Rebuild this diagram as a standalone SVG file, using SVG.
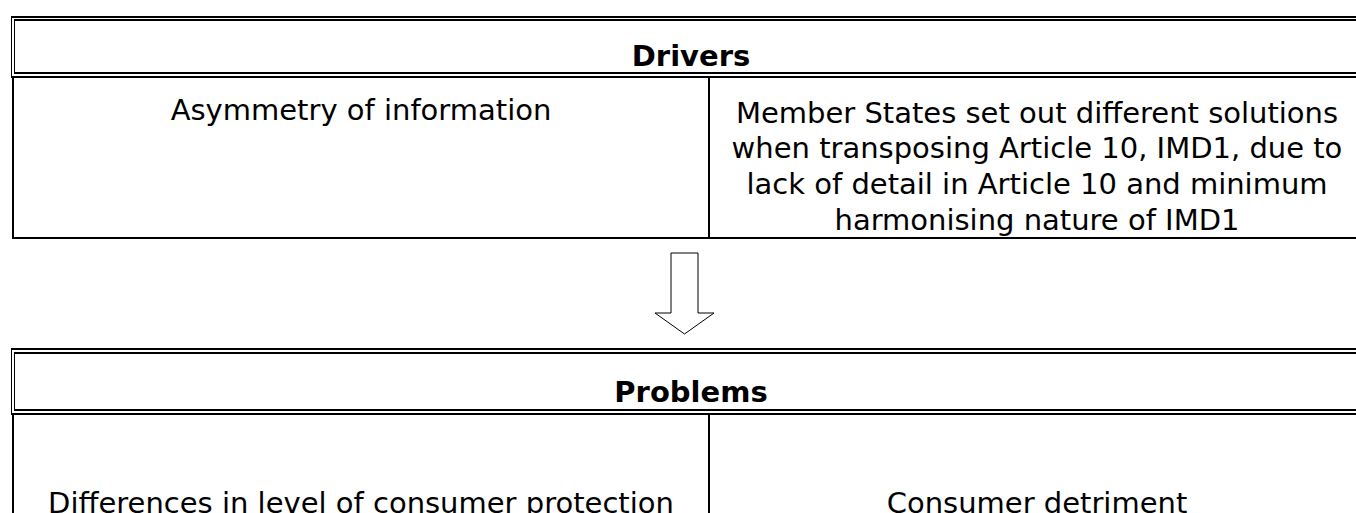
<svg xmlns="http://www.w3.org/2000/svg" width="1356" height="513" viewBox="0 0 1356 513">
<style>
.ln{stroke:#000;fill:none}
.h{stroke-width:2}
.v{stroke-width:1}
.b{stroke-width:2}
.t{font-family:"DejaVu Sans",Verdana,sans-serif;font-size:29px;fill:#000;text-anchor:middle}
.tb{font-weight:bold}
</style>
<rect width="1356" height="513" fill="#fff"/>
<g id="drivers">
<line class="ln h" x1="11" y1="17" x2="1370" y2="17"/>
<line class="ln h" x1="14" y1="20" x2="1370" y2="20"/>
<line class="ln h" x1="14" y1="73" x2="1370" y2="73"/>
<line class="ln h" x1="11" y1="77" x2="1370" y2="77"/>
<line class="ln v" x1="11.5" y1="16" x2="11.5" y2="78"/>
<line class="ln v" x1="14.5" y1="19" x2="14.5" y2="74"/>
<text class="t tb" x="691" y="66">Drivers</text>
</g>
<g id="driver-asymmetry">
<line class="ln b" x1="13" y1="78" x2="13" y2="239"/>
<line class="ln b" x1="12" y1="238" x2="1370" y2="238"/>
<line class="ln b" x1="709" y1="78" x2="709" y2="238"/>
<text class="t" x="361" y="120">Asymmetry of information</text>
</g>
<g id="driver-member-states">
<text class="t" x="1037" y="123">Member States set out different solutions</text>
<text class="t" x="1037" y="158">when transposing Article 10, IMD1, due to</text>
<text class="t" x="1037" y="194">lack of detail in Article 10 and minimum</text>
<text class="t" x="1037" y="230">harmonising nature of IMD1</text>
</g>
<g id="connectors">
<path d="M671 253 H698 V313 H714 L684.5 334 L655 313 H671 Z" fill="#fff" stroke="#000" stroke-width="1"/>
</g>
<g id="problems">
<line class="ln h" x1="11" y1="349" x2="1370" y2="349"/>
<line class="ln h" x1="14" y1="353" x2="1370" y2="353"/>
<line class="ln h" x1="14" y1="410" x2="1370" y2="410"/>
<line class="ln h" x1="11" y1="414" x2="1370" y2="414"/>
<line class="ln v" x1="11.5" y1="348" x2="11.5" y2="415"/>
<line class="ln v" x1="14.5" y1="352" x2="14.5" y2="411"/>
<text class="t tb" x="691" y="402">Problems</text>
</g>
<g id="problem-differences">
<line class="ln b" x1="13" y1="415" x2="13" y2="513"/>
<line class="ln b" x1="709" y1="415" x2="709" y2="513"/>
<text class="t" x="361" y="513">Differences in level of consumer protection</text>
</g>
<g id="problem-detriment">
<text class="t" x="1037" y="513">Consumer detriment</text>
</g>
</svg>
